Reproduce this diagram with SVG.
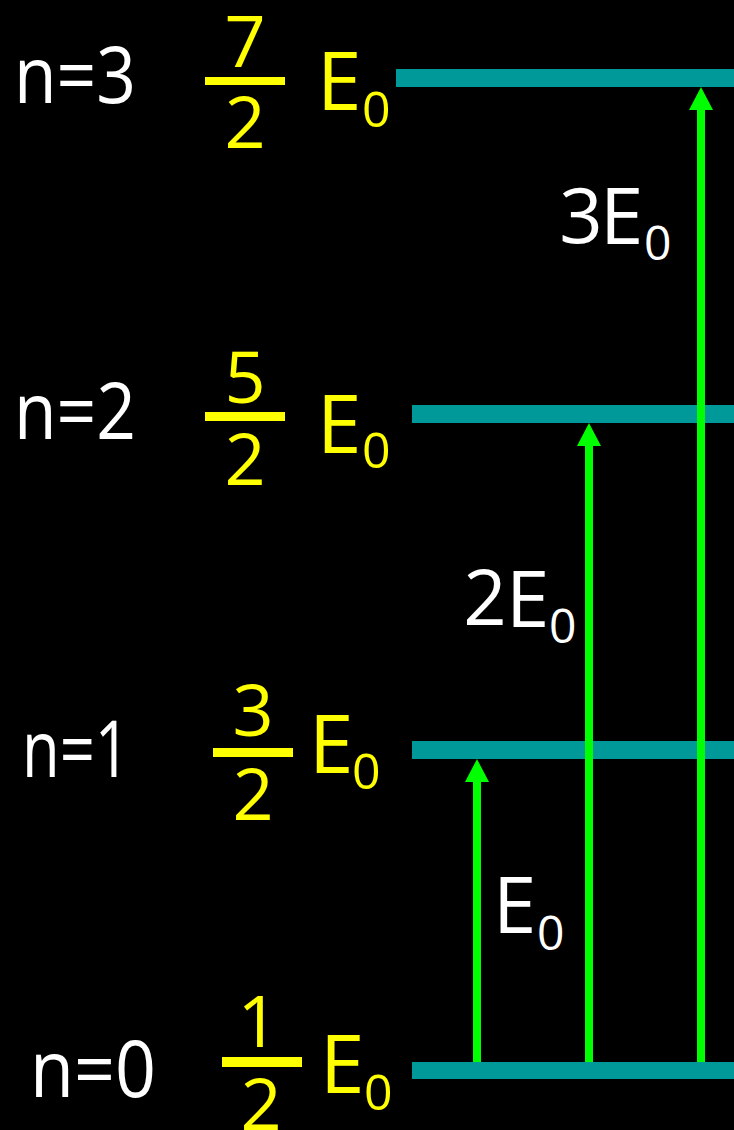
<svg xmlns="http://www.w3.org/2000/svg" width="734" height="1130" viewBox="0 0 734 1130">
<style>
text{font-family:"Open Sans","DejaVu Sans",sans-serif;}
.n{fill:#ffffff;font-size:78px;}
.y{fill:#ffff00;}
.w{fill:#ffffff;}
.dg{font-size:72px;text-anchor:middle;}
.e{font-size:80px;}
.s{font-size:50px;}
.fb{fill:#ffff00;}
.lvl{fill:#009999;}
.arr{stroke:#00ff00;stroke-width:8;fill:none;}
.hd{fill:#00ff00;}
</style>
<rect x="0" y="0" width="734" height="1130" fill="#000000"/>
<g id="level3">
<rect class="lvl" x="396" y="69" width="338" height="18"/>
<text class="n" x="14" y="103" textLength="122" lengthAdjust="spacingAndGlyphs">n=3</text>
<text class="y dg" x="245" y="67">7</text>
<rect class="fb" x="205" y="77" width="80" height="8"/>
<text class="y dg" x="245" y="148">2</text>
<text class="y e" x="317" y="110">E<tspan class="s" x="362" y="127">0</tspan></text>
</g>
<g id="level2">
<rect class="lvl" x="412" y="405" width="322" height="18"/>
<text class="n" x="14" y="439" textLength="122" lengthAdjust="spacingAndGlyphs">n=2</text>
<text class="y dg" x="245" y="403">5</text>
<rect class="fb" x="205" y="412" width="80" height="9"/>
<text class="y dg" x="245" y="485">2</text>
<text class="y e" x="317" y="453">E<tspan class="s" x="362" y="468">0</tspan></text>
</g>
<g id="level1">
<rect class="lvl" x="412" y="741" width="322" height="18"/>
<text class="n" x="22" y="777" textLength="108" lengthAdjust="spacingAndGlyphs">n=1</text>
<text class="y dg" x="253" y="736">3</text>
<rect class="fb" x="213" y="748" width="80" height="9"/>
<text class="y dg" x="253" y="820">2</text>
<text class="y e" x="309" y="773">E<tspan class="s" x="352" y="789">0</tspan></text>
</g>
<g id="level0">
<rect class="lvl" x="412" y="1062" width="322" height="17"/>
<text class="n" x="30" y="1097" textLength="126" lengthAdjust="spacingAndGlyphs">n=0</text>
<text class="y dg" x="258" y="1047">1</text>
<rect class="fb" x="222" y="1057" width="80" height="10"/>
<text class="y dg" x="261" y="1130">2</text>
<text class="y e" x="320" y="1093">E<tspan class="s" x="364" y="1110">0</tspan></text>
</g>
<g id="connectors">
<line class="arr" x1="477" y1="1062" x2="477" y2="780"/>
<polygon class="hd" points="477,759 489,782 465,782"/>
<line class="arr" x1="589" y1="1062" x2="589" y2="444"/>
<polygon class="hd" points="589,423 601,446 577,446"/>
<line class="arr" x1="701" y1="1062" x2="701" y2="108"/>
<polygon class="hd" points="701,87 713,110 689,110"/>
</g>
<g id="label-3E0">
<text class="w" x="581" y="243" font-size="76" text-anchor="middle">3</text>
<text class="w" x="600" y="244" font-size="78">E<tspan x="644" y="260" font-size="48">0</tspan></text>
</g>
<g id="label-2E0">
<text class="w" x="485" y="625" font-size="76" text-anchor="middle">2</text>
<text class="w" x="506" y="627" font-size="78">E<tspan x="549" y="643" font-size="48">0</tspan></text>
</g>
<g id="label-E0">
<text class="w" x="493" y="933" font-size="78">E<tspan x="537" y="950" font-size="48">0</tspan></text>
</g>
</svg>
